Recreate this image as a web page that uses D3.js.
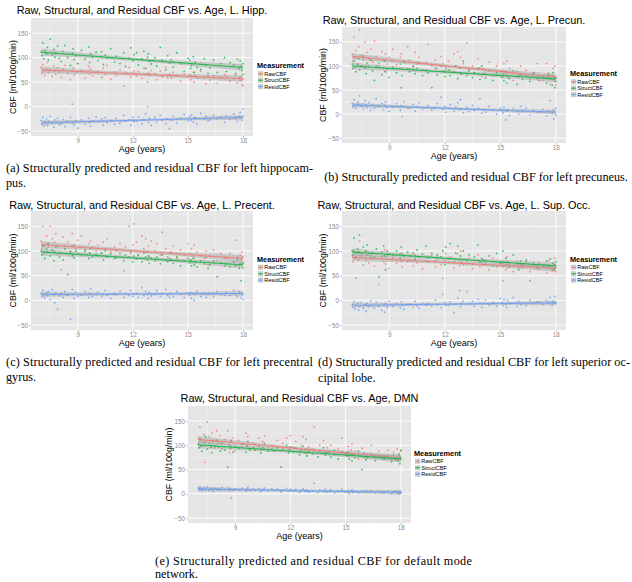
<!DOCTYPE html>
<html><head><meta charset="utf-8">
<script src="https://cdn.jsdelivr.net/npm/d3@7"></script>
<style>body{margin:0;background:#fff}svg{display:block}</style>
</head><body>
<svg id="fig" width="632" height="582"></svg>
<script>
// ---------------- DATA ----------------
const seriesNames = ["RawCBF", "StructCBF", "ResidCBF"];
const seriesColors = ["#F8766D", "#00BA38", "#619CFF"];
const xTickValues = [9, 12, 15, 18];
const xMinorTicks = [7.5, 10.5, 13.5, 16.5];
const yTickValues = [-50, 0, 50, 100, 150];
const yMinorTicks = [-25, 25, 75, 125, 175];
const titles = [
  "Raw, Structural, and Residual CBF vs. Age, L. Hipp.",
  "Raw, Structural, and Residual CBF vs. Age, L. Precun.",
  "Raw, Structural, and Residual CBF vs. Age, L. Precent.",
  "Raw, Structural, and Residual CBF vs. Age, L. Sup. Occ.",
  "Raw, Structural, and Residual CBF vs. Age, DMN"
];
const xLabel = "Age (years)";
const yLabel = "CBF (ml/100g/min)";
const legendTitle = "Measurement";

const ages = [7.0,7.05,7.1,7.15,7.2,7.3,7.35,7.4,7.5,7.6,7.7,7.75,7.8,7.9,8.0,
  8.1,8.2,8.3,8.45,8.6,8.7,8.75,8.8,8.9,9.0,
  9.2,9.4,9.6,9.65,9.7,9.8,10.0,
  10.1,10.3,10.4,10.5,10.6,10.8,11.0,
  11.1,11.3,11.5,11.6,11.8,11.9,12.0,12.05,
  12.2,12.3,12.5,12.6,12.7,12.8,12.85,12.9,13.0,
  13.2,13.3,13.5,13.6,13.8,13.9,14.0,
  14.1,14.2,14.4,14.6,14.8,15.0,
  15.1,15.15,15.2,15.3,15.35,15.4,15.5,15.7,15.9,16.0,16.1,
  16.2,16.4,16.6,16.8,17.0,
  17.1,17.3,17.5,17.6,17.7,17.8,17.85,17.9,17.95,18.0,18.0];

// (a) L. Hipp.
const hippRaw = [80,68,86,72,64,77,90,70,75,62,83,73,66,79,71, 60,76,84,68,55,73,79,65,70,88, 74,58,82,67,77,63,70, 72,60,78,66,84,56,70, 64,75,42,70,80,60,68,73, 62,72,58,78,66,50,69,64,74, 68,55,73,61,80,59,66, 58,70,64,52,67,61, 66,55,62,70,50,64,58,72,60,47,63, 54,63,48,60,66, 62,52,57,65,48,59,54,61,45,56,42];
const hippStruct = [112,104,130,98,115,108,121,95,138,106,117,101,110,124,99, 92,113,125,100,84,109,118,96,104,88, 115,97,122,90,108,101,111, 94,112,86,105,99,118,91, 103,88,110,82,99,120,93,106, 110,85,98,113,78,101,108,92,87, 100,83,121,95,75,104,89, 96,81,110,88,72,99, 95,78,84,102,70,91,80,76,98,85,68, 79,95,70,88,100, 72,90,85,68,97,78,93,83,74,88,66];
const hippResid = [-28,-36,-22,-40,-31,-25,-38,-30,-20,-34,-42,-27,-33,-24,-37, -35,-26,-41,-30,-22,5,-33,-38,-28,-44, -27,-36,-24,-33,-40,-29,-21, -31,-25,-38,-22,-33,-28,-36, -24,-34,-18,-30,-27,-38,-22,-31, -30,-21,-35,-26,-15,0,-32,-24,-38, -22,-31,-18,-28,-35,-25,-45, -28,-20,-33,-24,-16,-30, -20,-28,-17,-31,-24,-22,-35,-14,-26,-19,-29, -27,-18,-25,-21,-32, -19,-26,-15,-24,-30,-21,-12,-23,-28,-20,-5];
const hippFitRaw = [75, 57], hippFitStruct = [111, 80], hippFitResid = [-33, -22];

// (b) L. Precun.
const precunRaw = [125,110,160,118,132,105,140,175,122,112,150,100,128,115,135, 108,152,120,98,130,112,90,125,104,118, 135,102,118,125,96,110,140, 112,98,128,104,118,92,108, 145,100,112,95,120,105,88,98, 110,92,125,100,130,96,118,85,105, 148,92,100,85,115,96,78, 95,85,108,80,100,88, 90,78,105,84,110,75,95,70,88,82,100, 80,92,72,86,105, 78,70,105,85,62,80,95,72,100,60,75];
const precunStruct = [104,95,110,98,88,102,115,92,100,120,96,84,106,99,112, 90,70,100,105,82,96,110,88,94,76, 98,86,104,55,80,108,95, 88,100,84,95,106,80,92, 86,55,95,82,100,90,78,93, 92,80,88,100,74,85,96,83,110, 80,90,76,86,95,72,100, 84,75,90,70,86,80, 76,84,70,88,65,80,74,90,62,78,82, 72,80,68,85,74, 70,78,65,82,74,60,86,72,55,76,68];
const precunResid = [22,15,30,18,12,25,20,38,16,10,28,19,14,24,8, 20,12,32,16,22,9,18,25,14,6, 15,22,8,18,-5,26,13, 12,20,6,16,24,10,14, 18,8,14,22,35,10,16,4, 12,20,6,15,24,9,30,11,3, 14,5,18,8,12,32,2, 10,4,16,8,0,12, 8,2,14,-12,6,10,-3,12,5,0,16, 6,12,-2,8,4, 4,10,-4,6,28,2,8,-10,5,12,-2];
const precunFitRaw = [120, 77], precunFitStruct = [100, 73], precunFitResid = [19, 4];

// (c) L. Precent.
const precentRaw = [120,105,150,112,98,130,115,108,150,125,100,118,135,110,95, 62,128,110,118,100,135,92,112,105,122, 130,102,115,95,120,108,100, 112,96,118,104,125,98,108, 100,115,60,108,150,95,112,155, 118,92,130,105,125,98,110,88,120, 100,115,92,138,105,88,96, 98,110,85,102,92,115, 95,82,105,88,112,78,98,90,85,100,72, 90,102,80,95,86, 85,95,78,122,88,70,92,82,98,75,88];
const precentStruct = [100,92,110,96,85,104,98,115,90,102,80,97,108,94,88, 96,82,104,52,98,90,110,86,100,94, 92,100,85,96,105,88,94, 90,96,82,100,88,94,85, 86,95,80,92,88,100,78,90, 84,92,78,96,88,82,90,75,86, 80,88,74,92,82,78,85, 82,75,88,70,80,85, 76,82,70,85,72,78,68,80,74,88,65, 72,80,48,76,70, 74,68,78,70,82,65,75,40,72,66,76];
const precentResid = [14,8,20,12,5,16,10,18,2,22,12,-5,15,-18,9, 14,6,18,10,-38,22,12,4,16,8, 10,18,6,14,24,8,12, 16,8,12,20,10,4,14, 12,18,6,14,10,20,8,13, 14,6,26,10,18,12,4,16,9, 12,20,8,14,22,10,6, 14,8,18,12,6,15, 10,16,4,14,0,12,18,8,14,6,12, 14,8,18,12,10, 16,10,20,12,8,18,14,6,15,12,2];
const precentFitRaw = [113, 85], precentFitStruct = [98, 72], precentFitResid = [12, 14];

// (d) L. Sup. Occ.
const supoccRaw = [90,78,100,85,45,95,82,120,88,72,98,80,92,76,86, 84,70,95,32,88,78,102,74,90,65, 86,75,95,80,68,90,78, 82,70,92,76,88,64,80, 78,90,68,84,72,45,80,95, 76,88,66,82,94,70,100,78,72, 74,86,64,80,92,68,76, 72,80,62,85,68,75, 70,40,78,62,88,66,74,58,80,68,72, 66,78,58,72,64, 64,72,56,80,68,60,74,62,85,58,70];
const supoccStruct = [100,92,126,96,88,104,98,132,94,108,86,100,112,95,90, 96,88,104,48,98,110,90,62,100,94, 92,100,86,108,95,90,98, 90,96,84,102,88,94,110, 86,95,80,92,88,100,72,108, 84,115,78,96,110,82,90,75,100, 80,92,74,88,112,78,85, 82,74,90,70,95,78, 76,100,70,85,72,78,68,92,74,62,80, 72,82,40,76,70, 74,68,80,70,84,65,75,62,72,78,66];
const supoccResid = [-8,-14,-2,-18,-10,-5,-20,-12,-4,-16,-9,-22,-6,-13,-1, -10,-16,-4,-12,-20,-8,-24,-6,-14,-2, -12,-6,-15,-3,-10,-18,-8, -8,-14,-2,-11,-16,-6,-10, -6,-12,0,-9,-15,12,-4,-10, -10,-3,-25,-7,5,20,-12,-6,-2, 18,-8,-2,-12,2,-6,-14, -6,0,-10,-4,-12,4, -4,-10,2,-8,-14,0,-6,6,-12,-2,-8, -5,-10,0,-7,-3, -4,-8,0,-6,6,-10,-2,-5,8,-4,-7];
const supoccFitRaw = [87, 65], supoccFitStruct = [98, 70], supoccFitResid = [-10, -5];

// (e) DMN
const dmnRaw = [115,105,138,112,98,122,65,108,148,118,100,125,110,95,130, 104,120,92,112,130,85,108,98,115,88, 110,96,125,100,118,92,105, 102,115,90,108,120,95,100, 98,110,88,104,115,92,120,96, 95,108,85,100,118,90,112,82,96, 92,138,84,100,110,86,95, 88,100,80,92,115,84, 86,98,78,90,102,80,88,72,94,84,76, 82,100,74,88,78, 78,90,70,85,74,92,68,80,76,88,72];
const dmnStruct = [102,95,112,98,88,106,100,118,92,104,96,85,108,99,110, 96,88,104,90,55,100,94,110,86,98, 94,102,86,98,108,90,95, 90,98,84,95,104,88,92, 88,95,55,92,100,84,90,96, 86,94,80,90,98,84,92,78,88, 82,90,76,88,95,80,85, 84,76,90,72,86,80, 78,86,72,82,68,80,74,88,50,76,70, 74,82,68,78,72, 72,78,66,80,70,75,68,82,62,74,90];
const dmnResid = [12,8,14,10,6,11,13,9,15,7,10,12,5,11,9, 10,7,13,9,12,6,11,-8,8,10, 9,12,6,10,14,8,11, 8,11,5,9,12,7,10, 7,10,4,8,11,6,9,7, 6,9,3,7,10,5,8,6,4, 6,22,3,8,5,9,4, 5,8,2,6,9,4, 4,7,1,5,8,3,6,2,5,4,7, 4,6,2,5,3, 3,5,1,4,6,2,4,0,5,3,2];
const dmnFitRaw = [112, 74], dmnFitStruct = [101, 72], dmnFitResid = [10, 3];

const fitAgeRange = [7.0, 18.0];
// confidence band half-width (units): at the ends, at the centre
const bandHalfEnd = [7, 7, 5];
const bandHalfMid = [3.5, 3.5, 2.5];

const captions = [
  ["(a) Structurally predicted and residual CBF for left hippocam-", "pus."],
  ["(b) Structurally predicted and residual CBF for left precuneus."],
  ["(c) Structurally predicted and residual CBF for left precentral", "gyrus."],
  ["(d) Structurally predicted and residual CBF for left superior oc-", "cipital lobe."],
  ["(e) Structurally predicted and residual CBF for default mode", "network."]
];

// ---------------- LAYOUT ----------------
const panels = [
  {title: titles[0], data: [hippRaw, hippStruct, hippResid], fits: [hippFitRaw, hippFitStruct, hippFitResid],
   L: 31, R: 253, T: 18, B: 136, titleY: 14, yLabX: 13, legX: 258},
  {title: titles[1], data: [precunRaw, precunStruct, precunResid], fits: [precunFitRaw, precunFitStruct, precunFitResid],
   L: 342, R: 566, T: 27, B: 143, titleY: 24, yLabX: 323, legX: 571},
  {title: titles[2], data: [precentRaw, precentStruct, precentResid], fits: [precentFitRaw, precentFitStruct, precentFitResid],
   L: 31, R: 253, T: 211, B: 330, titleY: 208.5, yLabX: 13, legX: 258},
  {title: titles[3], data: [supoccRaw, supoccStruct, supoccResid], fits: [supoccFitRaw, supoccFitStruct, supoccFitResid],
   L: 342, R: 566, T: 211, B: 330, titleY: 208.5, yLabX: 323, legX: 571},
  {title: titles[4], data: [dmnRaw, dmnStruct, dmnResid], fits: [dmnFitRaw, dmnFitStruct, dmnFitResid],
   L: 188, R: 411, T: 406, B: 523, titleY: 402, yLabX: 169, legX: 415}
];
const captionLayout = [
  [{x: 6, y: 172, w: 307}, {x: 6, y: 187}],
  [{x: 476, y: 181, anchor: "middle"}],
  [{x: 6, y: 366, w: 307}, {x: 6, y: 381}],
  [{x: 318, y: 366, w: 312}, {x: 318, y: 382}],
  [{x: 155, y: 565, w: 317}, {x: 155, y: 578}]
];

const SANS = "'Liberation Sans', Arial, Helvetica, sans-serif";
const SERIF = "'Liberation Serif', 'Times New Roman', Times, serif";
const xDomain = [6.45, 18.55], yDomain = [-60, 181];
const svg = d3.select("#fig");

function styleAxis(g) {
  g.select(".domain").remove();
  g.selectAll(".tick line").attr("stroke", "#8C8C8C").attr("stroke-width", 0.6);
  g.selectAll(".tick text").attr("fill", "#8C8C8C").attr("font-size", 6.3).attr("font-family", SANS);
  g.attr("font-family", SANS);
}

panels.forEach((p, pi) => {
  const g = svg.append("g");
  const x = d3.scaleLinear().domain(xDomain).range([p.L, p.R]);
  const y = d3.scaleLinear().domain(yDomain).range([p.B, p.T]);
  const midX = (p.L + p.R) / 2, midY = (p.T + p.B) / 2;

  g.append("rect").attr("x", p.L).attr("y", p.T).attr("width", p.R - p.L).attr("height", p.B - p.T).attr("fill", "#E5E5E5");
  g.selectAll(null).data(xMinorTicks).join("line")
    .attr("x1", d => x(d)).attr("x2", d => x(d)).attr("y1", p.T).attr("y2", p.B)
    .attr("stroke", "#F2F2F2").attr("stroke-width", 0.5);
  g.selectAll(null).data(yMinorTicks).join("line")
    .attr("y1", d => y(d)).attr("y2", d => y(d)).attr("x1", p.L).attr("x2", p.R)
    .attr("stroke", "#F2F2F2").attr("stroke-width", 0.5);
  g.selectAll(null).data(xTickValues).join("line")
    .attr("x1", d => x(d)).attr("x2", d => x(d)).attr("y1", p.T).attr("y2", p.B)
    .attr("stroke", "#FFFFFF").attr("stroke-width", 0.9);
  g.selectAll(null).data(yTickValues).join("line")
    .attr("y1", d => y(d)).attr("y2", d => y(d)).attr("x1", p.L).attr("x2", p.R)
    .attr("stroke", "#FFFFFF").attr("stroke-width", 0.9);

  const ax = g.append("g").attr("transform", `translate(0,${p.B})`)
    .call(d3.axisBottom(x).tickValues(xTickValues).tickSize(1.8).tickPadding(1.2));
  styleAxis(ax);
  const ay = g.append("g").attr("transform", `translate(${p.L},0)`)
    .call(d3.axisLeft(y).tickValues(yTickValues).tickSize(1.8).tickPadding(1.2));
  styleAxis(ay);

  // points
  p.data.forEach((vals, si) => {
    const pts = ages.map((a, i) => [a, vals[i]]).filter(d => d[1] != null);
    g.append("g").selectAll("circle").data(pts).join("circle")
      .attr("cx", d => x(d[0])).attr("cy", d => y(d[1])).attr("r", 0.9)
      .attr("fill", seriesColors[si]).attr("opacity", 0.8);
  });

  // smooths: fitted line, with its grey confidence band
  p.fits.forEach((f, si) => {
    const fit = d3.scaleLinear().domain(fitAgeRange).range(f);
    const am = (fitAgeRange[0] + fitAgeRange[1]) / 2, ah = (fitAgeRange[1] - fitAgeRange[0]) / 2;
    const grid = d3.range(0, 41).map(k => fitAgeRange[0] + k * (fitAgeRange[1] - fitAgeRange[0]) / 40);
    const band = grid.map(a => {
      const u = (a - am) / ah;
      const se = Math.sqrt(bandHalfMid[si] ** 2 + (bandHalfEnd[si] ** 2 - bandHalfMid[si] ** 2) * u * u);
      return {a, lo: fit(a) - se, hi: fit(a) + se, m: fit(a)};
    });
    g.append("path").datum(band)
      .attr("d", d3.area().x(d => x(d.a)).y0(d => y(d.lo)).y1(d => y(d.hi)))
      .attr("fill", "#999999").attr("fill-opacity", 0.4);
    g.append("path").datum(band)
      .attr("d", d3.line().x(d => x(d.a)).y(d => y(d.m)))
      .attr("fill", "none").attr("stroke", seriesColors[si]).attr("stroke-width", 1.1).attr("stroke-opacity", 0.85);
  });

  // titles
  g.append("text").attr("x", midX).attr("y", p.titleY).attr("text-anchor", "middle")
    .attr("font-family", SANS).attr("font-size", 10.9).attr("fill", "#000").text(p.title);
  g.append("text").attr("x", midX).attr("y", p.B + 15.5).attr("text-anchor", "middle")
    .attr("font-family", SANS).attr("font-size", 9).attr("fill", "#000").text(xLabel);
  g.append("text").attr("transform", `translate(${p.yLabX},${midY}) rotate(-90)`)
    .attr("text-anchor", "middle").attr("dy", "0.35em")
    .attr("font-family", SANS).attr("font-size", 8.8).attr("fill", "#000").text(yLabel);

  // legend
  const lg = g.append("g");
  lg.append("text").attr("x", p.legX - 1).attr("y", midY - 9)
    .attr("font-family", SANS).attr("font-size", 7.3).attr("font-weight", "bold").text(legendTitle);
  seriesNames.forEach((nm, si) => {
    const cy = midY - 3.2 + si * 6.4;
    lg.append("rect").attr("x", p.legX).attr("y", cy - 2.6).attr("width", 5.2).attr("height", 5.2).attr("fill", "#F2F2F2");
    lg.append("rect").attr("x", p.legX).attr("y", cy - 2.6).attr("width", 5.2).attr("height", 5.2).attr("fill", "#999999").attr("fill-opacity", 0.4);
    lg.append("line").attr("x1", p.legX).attr("x2", p.legX + 5.2).attr("y1", cy).attr("y2", cy)
      .attr("stroke", seriesColors[si]).attr("stroke-width", 0.8);
    lg.append("circle").attr("cx", p.legX + 2.6).attr("cy", cy).attr("r", 0.8).attr("fill", seriesColors[si]);
    lg.append("text").attr("x", p.legX + 6.2).attr("y", cy + 2.1)
      .attr("font-family", SANS).attr("font-size", 5.6).attr("fill", "#000").text(nm);
  });

  // caption
  captions[pi].forEach((line, li) => {
    const c = captionLayout[pi][li];
    const t = svg.append("text").attr("x", c.x).attr("y", c.y)
      .attr("font-family", SERIF).attr("font-size", 12.2).attr("fill", "#000")
      .attr("text-anchor", c.anchor || "start").text(line);
    if (c.w) t.attr("textLength", c.w).attr("lengthAdjust", "spacing");
  });
});
</script>
</body></html>
